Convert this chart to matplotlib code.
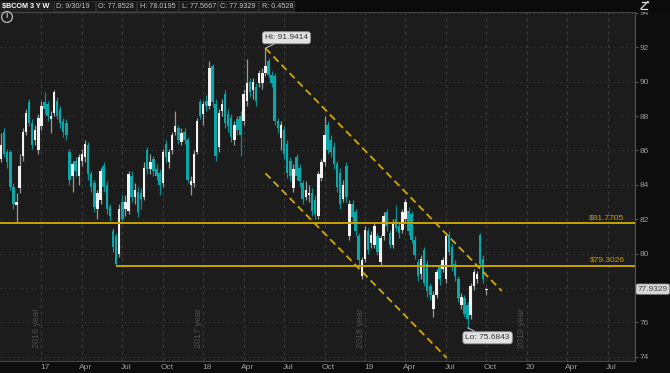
import numpy as np
import pandas as pd
import matplotlib
matplotlib.use('Agg')
import matplotlib.pyplot as plt
import matplotlib.dates as mdates
from matplotlib.patches import Rectangle
from matplotlib.transforms import ScaledTranslation

plt.rcParams['font.family'] = ['Liberation Sans', 'DejaVu Sans']

# $BCOM weekly bars, 3 years (week of 10/3/16 .. week of 9/30/19)
weeks = pd.date_range('2016-10-03', periods=157, freq='7D')

opens = [
    85.5, 87.1, 85.9, 85.9, 83.9, 82.8, 83.8, 85.7, 87.1, 88.8,
    87.6, 86.6, 86.0, 87.4, 88.8, 88.7, 87.8, 88.2, 88.9, 88.4,
    87.7, 87.6, 85.9, 84.5, 85.4, 84.5, 85.4, 85.6, 86.3, 84.6,
    84.1, 82.6, 83.1, 85.1, 84.0, 82.7, 81.3, 81.0, 80.0, 83.0,
    82.6, 82.5, 84.5, 83.3, 83.6, 83.5, 83.3, 86.0, 84.9, 85.5,
    84.9, 84.7, 84.1, 86.4, 85.3, 86.0, 87.1, 87.3, 86.5, 87.1,
    86.6, 84.0, 84.1, 85.9, 88.8, 88.1, 88.9, 88.6, 90.9, 88.7,
    86.2, 88.3, 89.3, 88.1, 87.9, 86.6, 87.8, 88.0, 87.7, 88.9,
    90.0, 89.5, 89.7, 89.9, 89.9, 90.5, 91.2, 90.4, 90.3, 87.7,
    86.7, 87.2, 86.4, 85.4, 83.8, 85.6, 85.0, 84.1, 83.3, 83.4,
    83.5, 83.1, 82.2, 84.4, 85.3, 87.5, 86.6, 86.2, 85.2, 84.7,
    83.2, 85.1, 81.0, 82.9, 82.4, 81.0, 78.7, 79.7, 81.3, 80.6,
    80.5, 81.0, 79.5, 81.0, 82.4, 81.2, 80.5, 82.0, 81.6, 81.4,
    82.0, 82.5, 82.3, 80.8, 79.5, 78.8, 80.2, 79.4, 78.1, 76.8,
    77.6, 79.2, 79.1, 78.5, 81.1, 80.4, 79.4, 78.5, 77.0, 77.4,
    77.0, 76.4, 78.1, 78.5, 81.1, 79.7, 77.8528,
]
closes = [
    86.3, 85.8, 85.3, 83.9, 82.9, 83.0, 85.1, 87.1, 88.2, 87.6,
    86.3, 87.2, 87.9, 88.6, 88.4, 88.0, 88.0, 89.4, 88.0, 87.6,
    87.1, 86.9, 84.3, 85.2, 84.8, 85.6, 85.8, 86.4, 84.6, 83.9,
    82.7, 83.5, 84.8, 83.9, 82.6, 82.2, 80.4, 79.4, 82.6, 82.0,
    83.0, 84.6, 83.3, 83.7, 82.4, 83.2, 85.0, 84.9, 85.3, 84.8,
    84.5, 84.0, 85.9, 85.6, 85.9, 86.9, 87.4, 86.6, 87.0, 86.6,
    84.3, 84.2, 85.8, 87.7, 88.0, 88.7, 88.6, 90.8, 88.8, 85.7,
    88.2, 88.7, 87.6, 87.4, 86.8, 87.5, 87.2, 86.9, 89.3, 89.9,
    89.4, 90.0, 88.9, 90.5, 90.5, 90.9, 90.4, 89.9, 87.7, 87.3,
    87.5, 85.8, 84.7, 84.5, 84.9, 84.5, 84.2, 83.2, 83.7, 83.5,
    82.5, 82.3, 84.6, 85.3, 86.9, 86.0, 85.9, 85.2, 83.9, 82.9,
    84.0, 83.3, 82.9, 82.1, 81.3, 79.6, 79.6, 81.4, 80.2, 81.1,
    81.6, 80.1, 80.9, 82.2, 81.6, 80.5, 81.8, 81.5, 81.2, 82.4,
    83.0, 81.3, 80.8, 79.9, 78.7, 79.7, 78.3, 77.8, 77.6, 77.6,
    78.9, 78.5, 79.6, 81.0, 80.1, 79.2, 78.7, 77.4, 77.5, 76.5,
    76.2, 78.1, 78.9, 78.8, 79.4, 78.5, 77.9329,
]
highs = [
    87.0, 87.3, 86.1, 86.0, 84.1, 83.5, 85.8, 87.3, 88.4, 89.0,
    87.8, 87.5, 88.1, 88.9, 89.4, 88.9, 88.3, 89.5, 89.1, 88.6,
    87.9, 87.8, 86.1, 85.4, 85.6, 85.8, 86.1, 86.6, 86.5, 84.8,
    84.3, 83.7, 85.0, 85.3, 84.2, 82.9, 81.5, 81.2, 82.9, 83.4,
    83.4, 84.8, 84.8, 84.1, 83.9, 83.8, 85.3, 86.2, 85.8, 85.7,
    85.2, 84.9, 86.1, 86.6, 86.1, 87.1, 88.3, 87.5, 87.3, 87.3,
    86.8, 84.5, 86.0, 87.9, 89.0, 88.9, 89.2, 91.2, 91.0, 89.0,
    88.4, 89.0, 89.5, 88.4, 88.1, 87.7, 88.0, 88.3, 89.6, 91.3,
    90.2, 90.2, 89.9, 90.7, 90.8, 91.9414, 91.4, 90.6, 90.5, 87.9,
    87.7, 87.4, 86.6, 85.6, 85.2, 85.8, 85.2, 84.3, 84.2, 84.0,
    83.8, 83.4, 84.8, 85.5, 88.0, 87.7, 86.9, 86.5, 85.4, 85.0,
    84.3, 85.3, 83.1, 83.1, 82.6, 81.2, 79.8, 81.6, 81.5, 81.3,
    81.8, 81.2, 81.1, 82.4, 82.6, 81.4, 82.0, 82.8, 81.8, 82.6,
    83.2, 82.7, 82.5, 81.0, 79.7, 79.9, 80.4, 79.6, 78.3, 77.8,
    79.1, 79.4, 79.8, 81.2, 81.3, 80.6, 79.6, 78.7, 77.7, 77.6,
    77.2, 78.3, 79.1, 79.0, 81.2, 79.9, 78.0195,
]
lows = [
    85.3, 85.6, 85.0, 83.7, 82.6, 81.86, 83.5, 85.4, 86.9, 87.4,
    86.1, 86.3, 85.8, 87.2, 88.1, 87.7, 87.0, 88.0, 87.8, 87.3,
    86.8, 86.6, 84.0, 83.6, 84.5, 84.0, 85.1, 85.3, 84.3, 83.6,
    82.4, 82.0, 82.9, 83.6, 82.3, 81.9, 80.1, 79.3026, 79.8, 81.9,
    82.2, 82.3, 83.0, 82.9, 82.1, 82.6, 83.1, 84.6, 84.6, 84.5,
    84.3, 83.4, 83.9, 85.3, 85.0, 85.8, 86.9, 86.4, 86.3, 86.4,
    84.1, 83.4, 83.9, 85.8, 87.8, 87.5, 88.3, 88.4, 88.5, 85.4,
    85.9, 88.0, 87.3, 87.1, 86.5, 86.3, 86.9, 85.7, 87.5, 88.6,
    89.1, 89.0, 88.6, 89.7, 89.6, 90.3, 90.2, 89.7, 87.5, 87.0,
    86.0, 85.5, 84.4, 84.2, 83.6, 84.3, 83.9, 82.9, 83.1, 83.0,
    82.2, 82.0, 82.0, 84.2, 85.1, 85.8, 85.6, 84.9, 83.6, 82.6,
    83.0, 83.0, 80.8, 81.8, 81.0, 79.3, 78.5, 79.5, 80.0, 80.3,
    80.3, 79.9, 79.3, 80.8, 81.3, 80.3, 80.3, 81.3, 80.9, 81.2,
    81.8, 81.1, 80.6, 79.7, 78.4, 78.5, 78.1, 77.5, 77.3, 76.3,
    77.4, 78.2, 78.9, 78.3, 79.9, 79.0, 78.4, 77.2, 76.8, 76.3,
    75.6843, 76.2, 77.9, 78.3, 79.2, 78.3, 77.5667,
]

# drawings on the chart
level_hi = 81.7705
level_lo = 79.3026
level_lo_start = 37          # week of the June 2017 low
hi_idx, lo_idx = 85, 150
chan_upper = (['2018-05-21', '2019-11-04'], [91.9414, 77.82])
chan_lower = (['2018-05-21', '2019-07-03'], [84.67, 73.93])

price_ticks = [74, 76, 78, 80, 82, 84, 86, 88, 90, 92, 94]
quarter_dates = ['2017-01-02', '2017-04-03', '2017-07-03', '2017-10-02',
                 '2018-01-01', '2018-04-02', '2018-07-02', '2018-10-01',
                 '2018-12-31', '2019-04-01', '2019-07-01', '2019-09-30',
                 '2019-12-30', '2020-03-30', '2020-06-29']
quarter_labels = ['17', 'Apr', 'Jul', 'Oct', '18', 'Apr', 'Jul', 'Oct',
                  '19', 'Apr', 'Jul', 'Oct', '20', 'Apr', 'Jul']
year_marks = {'2016 year': '2017-01-02', '2017 year': '2018-01-01',
              '2018 year': '2018-12-31', '2019 year': '2019-12-30'}

header = [('D: 9/30/19', 54, 95), ('O: 77.8528', 96, 136), ('H: 78.0195', 137, 178),
          ('L: 77.5667', 179, 217), ('C: 77.9329', 218, 258), ('R: 0.4528', 259, 294)]

GOLD = '#c9a100'
UP, UP_WICK = '#f2f2f2', '#9a9a9a'
DN, DN_WICK = '#0aa8a8', '#0a9090'

o = np.array(opens); c = np.array(closes)
h = np.array(highs); l = np.array(lows)
x = mdates.date2num(weeks)
up = c >= o

fig = plt.figure(figsize=(6.7, 3.73), dpi=100, facecolor='#0d0d0d')
ax = fig.add_axes([0, 1 - 360.7 / 373, 634.7 / 670, 348.7 / 373])
ax.set_facecolor('#1c1c1c')

# grid
for qd in quarter_dates:
    ax.axvline(mdates.datestr2num(qd), color='#3a3a3a', lw=0.8, ls=(0, (3, 3)), zorder=0)
for p in price_ticks:
    ax.axhline(p, color='#3a3a3a', lw=0.8, ls=(0, (1, 3)), zorder=0)

for txt, d in year_marks.items():
    ax.text(mdates.datestr2num(d) - 11, 0.035, txt, rotation=90, ha='center', va='bottom',
            color='#4e4e4e', fontsize=6.5, transform=ax.get_xaxis_transform())

# candles
ax.vlines(x, l, h, colors=np.where(up, UP_WICK, DN_WICK), lw=0.9, zorder=2)
ax.bar(x, np.maximum(np.abs(c - o), 0.07), bottom=np.minimum(o, c), width=5.6,
       color=np.where(up, UP, DN), linewidth=0, zorder=3)

# support lines
xr = mdates.datestr2num('2020-08-29')
ax.axhline(level_hi, color=GOLD, lw=1.4, zorder=4)
ax.hlines(level_lo, x[level_lo_start], xr, color=GOLD, lw=1.4, zorder=4)
for lv in (level_hi, level_lo):
    ax.annotate(r'\$%.4f' % lv, xy=(0.984, lv), xycoords=ax.get_yaxis_transform(),
                xytext=(0, 2), textcoords='offset pixels', ha='right', va='bottom',
                color=GOLD, fontsize=6)

# price channel
for ds, ps in (chan_upper, chan_lower):
    ax.plot([mdates.datestr2num(d) for d in ds], ps, color='#d4a900', lw=1.3,
            ls=(0, (4, 2.4)), zorder=5)

# hi / lo bubbles
bub = dict(boxstyle='round,pad=0.3', fc='#e2e2e2', ec='#9a9a9a', lw=0.6)
ax.annotate('Hi: %.4f' % h[hi_idx], xy=(x[hi_idx], h[hi_idx]), xytext=(21, 10.5),
            textcoords='offset pixels', ha='center', va='center', fontsize=6, color='#333',
            bbox=bub, arrowprops=dict(arrowstyle='-', color='#bbbbbb', lw=0.8,
                                      shrinkA=0, shrinkB=0), zorder=6)
ax.annotate('Lo: %.4f' % l[lo_idx], xy=(x[lo_idx], l[lo_idx]), xytext=(20, -10),
            textcoords='offset pixels', ha='center', va='center', fontsize=6, color='#333',
            bbox=bub, arrowprops=dict(arrowstyle='-', color='#bbbbbb', lw=0.8,
                                      shrinkA=0, shrinkB=0), zorder=6)

# axes
ax.set_xlim(x[0] - 2.25, xr)
ax.set_ylim(73.77, 94.05)
ax.yaxis.tick_right()
ax.set_yticks(price_ticks)
ax.set_yticklabels(['' if p == 78 else str(p) for p in price_ticks])
ax.tick_params(axis='y', colors='#555555', labelcolor='#9a9a9a', labelsize=6,
               length=2, width=0.8, pad=1.5)
ax.set_xticks([mdates.datestr2num(d) for d in quarter_dates])
ax.set_xticklabels(quarter_labels)
ax.tick_params(axis='x', length=0, labelcolor='#9a9a9a', labelsize=6, pad=2.5)
for lbl in ax.get_xticklabels():
    lbl.set_transform(lbl.get_transform() + ScaledTranslation(0.04, 0, fig.dpi_scale_trans))
for side, col in (('top', '#444444'), ('right', '#555555'), ('bottom', '#444444')):
    ax.spines[side].set_color(col)
    ax.spines[side].set_linewidth(0.8)
ax.spines['left'].set_visible(False)

ax.annotate('%.4f' % c[-1], xy=(1, c[-1]), xycoords=ax.get_yaxis_transform(),
            xytext=(3, 0), textcoords='offset pixels', ha='left', va='center',
            fontsize=6, color='#444', annotation_clip=False,
            bbox=dict(boxstyle='round,pad=0.2', fc='#d8d8d8', ec='#888', lw=0.5))

# header bar
hdr = fig.add_axes([0, 1 - 12 / 373, 1, 12 / 373])
hdr.set_xlim(0, 670)
hdr.set_ylim(12, 0)
hdr.axis('off')
hdr.add_patch(Rectangle((0, 0), 670, 12, color='#0b0b0b'))
hdr.add_patch(Rectangle((0, 1), 53, 10, color='#202020'))
hdr.text(2, 6.2, r'\$BCOM 3 Y W', color='white', fontsize=5.2, weight='bold', va='center')
for txt, x0, x1 in header:
    hdr.add_patch(Rectangle((x0, 1), x1 - x0, 10, fc='#181818', ec='#333333', lw=0.6))
    hdr.text(x0 + 2.5, 6.2, txt, color='#c4c4c4', fontsize=5.2, va='center')
hdr.plot([642, 648], [1.5, 1.5], color='#dddddd', lw=0.9)
hdr.plot([648, 641], [1.5, 8.5], color='#dddddd', lw=0.9)
hdr.plot([641, 647], [8.5, 8.5], color='#dddddd', lw=0.9)

fig.text(7 / 670, 1 - 17 / 373, '!', ha='center', va='center', color='#cccccc',
         fontsize=5.5, weight='bold',
         bbox=dict(boxstyle='circle,pad=0.25', fc='none', ec='#bbbbbb', lw=0.9))

fig.savefig('out.png', dpi=100, facecolor=fig.get_facecolor())
